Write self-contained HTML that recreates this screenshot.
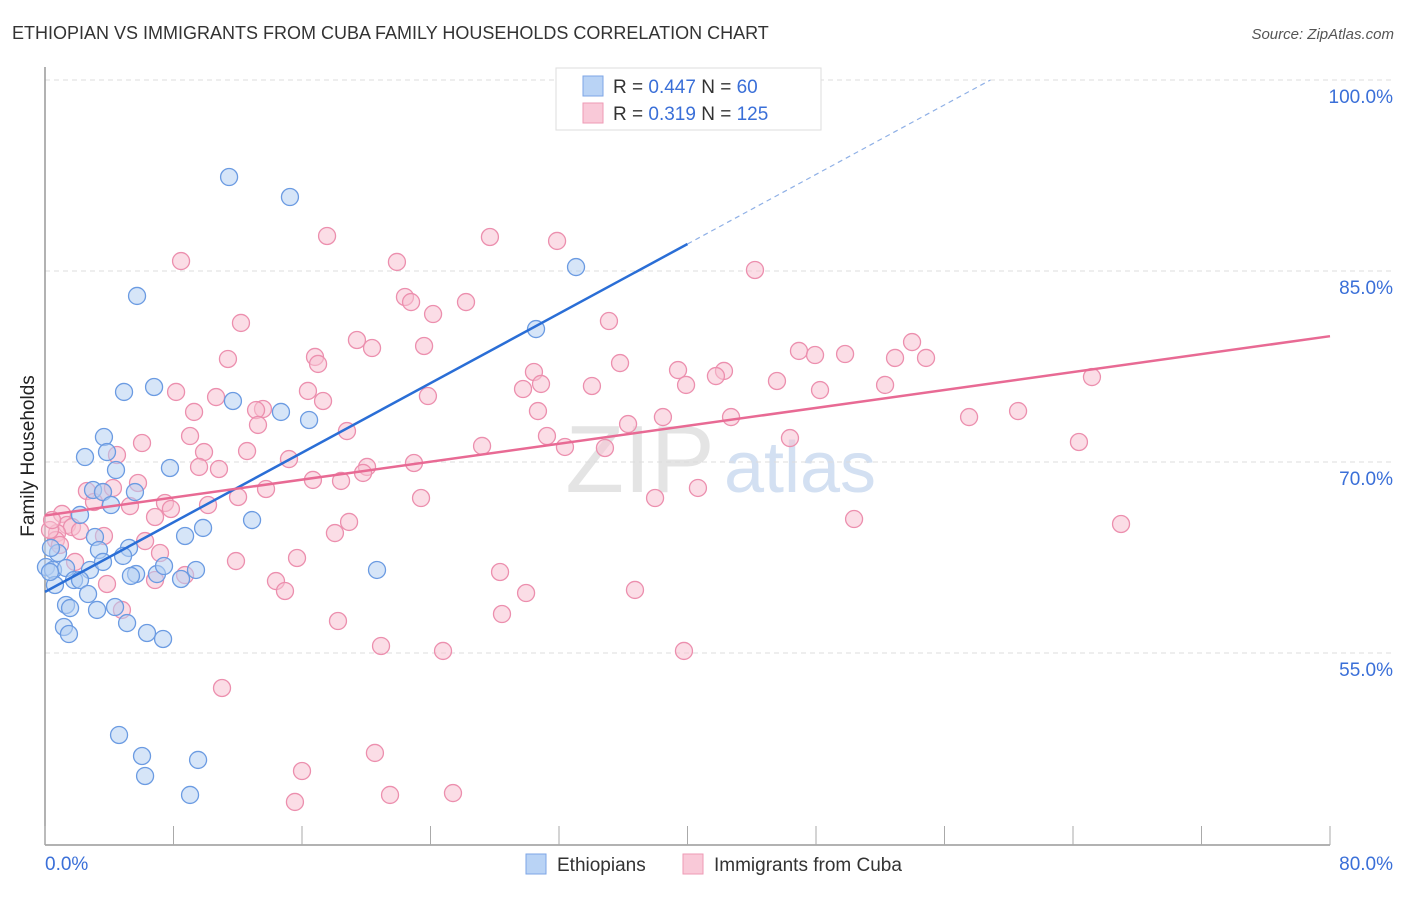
<!DOCTYPE html>
<html><head><meta charset="utf-8"><style>
body{margin:0;background:#fff;font-family:"Liberation Sans",sans-serif;}
svg text{font-family:"Liberation Sans",sans-serif;}
</style></head><body>
<svg width="1406" height="892" viewBox="0 0 1406 892">
<text x="12" y="39" font-size="18" fill="#333">ETHIOPIAN VS IMMIGRANTS FROM CUBA FAMILY HOUSEHOLDS CORRELATION CHART</text>
<text x="1394" y="39" font-size="15" fill="#555" font-style="italic" text-anchor="end">Source: ZipAtlas.com</text>
<text x="34" y="456" font-size="19" fill="#222" text-anchor="middle" transform="rotate(-90 34 456)">Family Households</text>
<text x="640" y="492" font-size="96" fill="#e4e4e4" font-family="Liberation Serif" text-anchor="middle">ZIP</text>
<text x="800" y="492" font-size="72" fill="#d3e0f2" text-anchor="middle">atlas</text>
<g id="grid"></g><g id="axes"></g><g id="pts"></g><g id="lines"></g>
<g>
<rect x="556" y="68" width="265" height="62" fill="#fff" stroke="#ddd"/>
<rect x="583" y="76" width="20" height="20" fill="#b9d3f5" stroke="#7da6e6"/>
<rect x="583" y="103" width="20" height="20" fill="#f9c9d8" stroke="#ee9ab5"/>
<text x="613" y="93" font-size="19" fill="#333">R = <tspan fill="#3a6fd8">0.447</tspan>   N = <tspan fill="#3a6fd8"> 60</tspan></text>
<text x="613" y="120" font-size="19" fill="#333">R = <tspan fill="#3a6fd8"> 0.319</tspan>   N = <tspan fill="#3a6fd8">125</tspan></text>
</g>
<g>
<rect x="526" y="854" width="20" height="20" fill="#b9d3f5" stroke="#7da6e6"/>
<text x="557" y="871" font-size="19" fill="#333">Ethiopians</text>
<rect x="683" y="854" width="20" height="20" fill="#f9c9d8" stroke="#ee9ab5"/>
<text x="714" y="871" font-size="19" fill="#333">Immigrants from Cuba</text>
</g>
</svg>
<script>
const yTicks=[100,85,70,55];
const yTickLabels=["100.0%","85.0%","70.0%","55.0%"];
const xTicks=[0,8,16,24,32,40,48,56,64,72,80];
const bluePx=[[229,177],[290,197],[576,267],[137,296],[536,329],[124,392],[154,387],[233,401],[281,412],[309,420],[104,437],[107,452],[85,457],[116,470],[170,468],[93,490],[103,492],[135,492],[111,505],[80,515],[252,520],[203,528],[185,536],[95,537],[99,550],[129,548],[123,556],[58,553],[51,548],[46,567],[53,570],[66,568],[90,570],[103,562],[136,574],[131,576],[157,574],[164,566],[196,570],[181,579],[74,580],[80,580],[55,585],[88,594],[66,605],[70,608],[97,610],[115,607],[127,623],[64,627],[69,634],[147,633],[163,639],[377,570],[119,735],[142,756],[145,776],[198,760],[190,795],[50,572]];
const pinkPx=[[181,261],[327,236],[397,262],[490,237],[557,241],[755,270],[405,297],[411,302],[433,314],[466,302],[241,323],[609,321],[357,340],[372,348],[424,346],[228,359],[315,357],[318,364],[534,372],[620,363],[678,370],[724,371],[716,376],[799,351],[815,355],[845,354],[912,342],[895,358],[926,358],[176,392],[216,397],[308,391],[323,401],[428,396],[523,389],[541,384],[592,386],[686,385],[777,381],[820,390],[885,385],[1092,377],[194,412],[263,409],[256,410],[258,425],[347,431],[482,446],[538,411],[547,436],[628,424],[663,417],[731,417],[790,438],[969,417],[1018,411],[1079,442],[142,443],[190,436],[204,452],[117,455],[247,451],[289,459],[219,469],[199,467],[367,467],[363,473],[414,463],[565,447],[605,448],[87,491],[103,492],[113,488],[138,483],[238,497],[266,489],[313,480],[341,481],[421,498],[698,488],[655,498],[165,503],[171,509],[208,505],[130,506],[62,514],[94,502],[155,517],[349,522],[335,533],[854,519],[1121,524],[67,525],[72,527],[80,531],[57,533],[56,540],[145,541],[104,536],[160,553],[75,562],[236,561],[297,558],[155,580],[185,575],[107,584],[276,581],[285,591],[500,572],[526,593],[635,590],[122,610],[502,614],[338,621],[381,646],[443,651],[684,651],[222,688],[375,753],[302,771],[295,802],[390,795],[453,793],[50,530],[60,545],[52,520]];
// data values (x %, y %) derived from reading the picture
const blueX=bluePx.map(p=>+((p[0]-45)/1285*80).toFixed(2));
const blueY=bluePx.map(p=>+(100-(p[1]-80)/12.733).toFixed(2));
const pinkX=pinkPx.map(p=>+((p[0]-45)/1285*80).toFixed(2));
const pinkY=pinkPx.map(p=>+(100-(p[1]-80)/12.733).toFixed(2));
const blueTrend=[59.8,0.683]; // intercept, slope
const pinkTrend=[65.8,0.176];
const X=v=>45+v/80*1285, Y=v=>80+(100-v)*12.733;
const NS="http://www.w3.org/2000/svg";
function mk(t,a,p){const e=document.createElementNS(NS,t);for(const k in a)e.setAttribute(k,a[k]);p.appendChild(e);return e;}
const grid=document.getElementById('grid'),axes=document.getElementById('axes'),pts=document.getElementById('pts'),lines=document.getElementById('lines');
yTicks.forEach((t,i)=>{
 const l=mk('line',{x1:45,x2:1394,y1:Y(t),y2:Y(t),stroke:'#ddd','stroke-dasharray':'5,4'},grid);
 
 
 const tx=mk('text',{x:1393,y:Y(t)+23,'font-size':19,fill:'#3a6fd8','text-anchor':'end'},grid);
 tx.textContent=yTickLabels[i];
 
 
});
const ya=mk('line',{x1:45,x2:45,y1:67,y2:845,stroke:'#999','stroke-width':1.5},axes);


const xa=mk('line',{x1:45,x2:1330,y1:845,y2:845,stroke:'#999','stroke-width':1.5},axes);


xTicks.forEach(t=>{const l=mk('line',{x1:X(t),x2:X(t),y1:826,y2:845,stroke:'#aaa'},axes);
 
 });
[[0,'0.0%','start',45],[80,'80.0%','end',1393]].forEach(d=>{const t=mk('text',{x:d[3],y:870,'font-size':19,fill:'#3a6fd8','text-anchor':d[2]},axes);t.textContent=d[1];
 
 });
function dots(xs,ys,fill,stroke,name){xs.forEach((x,i)=>{const c=mk('circle',{cx:X(x),cy:Y(ys[i]),r:8.5,fill:fill,'fill-opacity':0.55,stroke:stroke,'stroke-width':1.3},pts);
 
 });}
dots(pinkX,pinkY,'#f7c1d2','#ec8fae','point-cuba');
dots(blueX,blueY,'#b5cff3','#6b9be2','point-ethiopian');
const tl=(tr,x)=>tr[0]+tr[1]*x;
const b1=mk('line',{x1:X(0),y1:Y(tl(blueTrend,0)),x2:X(40),y2:Y(tl(blueTrend,40)),stroke:'#2a6ed6','stroke-width':2.5},lines);


const xe=(100-blueTrend[0])/blueTrend[1];
const b2=mk('line',{x1:X(40),y1:Y(tl(blueTrend,40)),x2:X(xe),y2:Y(100),stroke:'#8fb0e6','stroke-width':1.2,'stroke-dasharray':'5,4'},lines);


const p1=mk('line',{x1:X(0),y1:Y(tl(pinkTrend,0)),x2:X(80),y2:Y(tl(pinkTrend,80)),stroke:'#e86a94','stroke-width':2.5},lines);


</script>
</body></html>
